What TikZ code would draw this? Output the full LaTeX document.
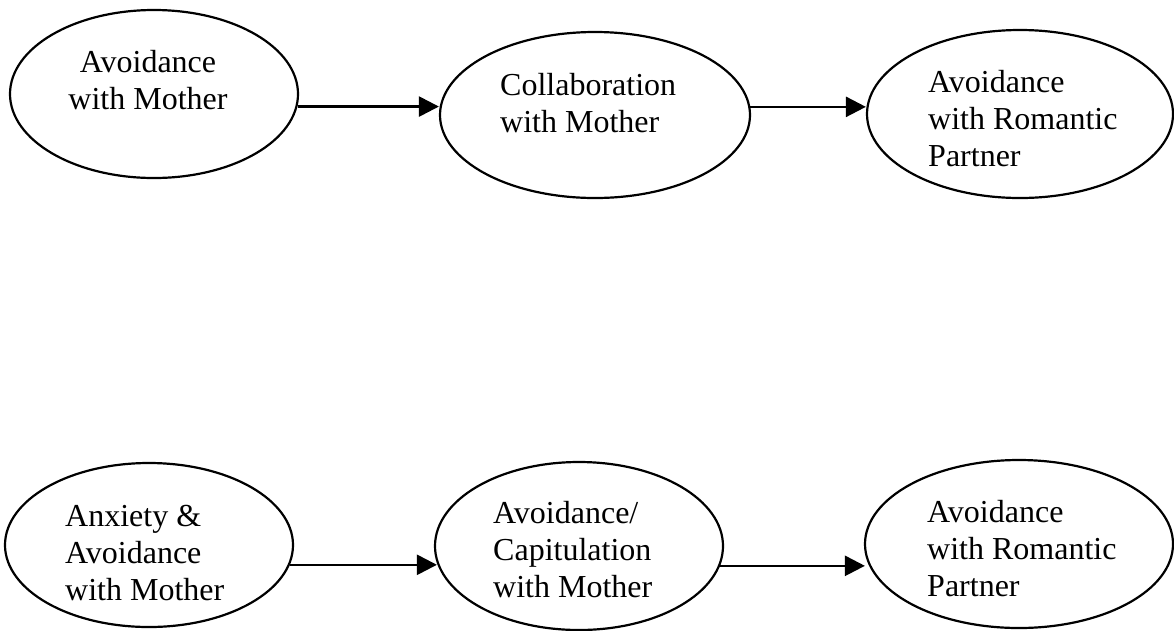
\documentclass[tikz,border=0pt]{standalone}
\usepackage{fontspec}
\setmainfont{Liberation Serif}
\usetikzlibrary{shapes.geometric,arrows.meta}

\tikzset{
  state/.style={draw=black, line width=2.2pt, ellipse, inner sep=0pt},
  caption/.style={inner sep=0pt, font=\fontsize{32}{37}\selectfont},
  flow/.style={draw=black, line width=2.6pt, -{Triangle[length=20pt,width=20pt]}}
}

\begin{document}
\begin{tikzpicture}[x=1pt, y=-1pt]
  \useasboundingbox (0,0) rectangle (1174,630);

  % upper chain
  \node[state, minimum width=288pt, minimum height=168pt] (e1) at (154,94) {};
  \node[state, minimum width=310pt, minimum height=166pt] (e2) at (595,115) {};
  \node[state, minimum width=306pt, minimum height=168pt] (e3) at (1020,114) {};

  \node[caption, anchor=north, align=center] (t1) at (148,50) {Avoidance\\with Mother};
  \node[caption, anchor=north west, align=left] (t2) at (500,73) {Collaboration\\with Mother};
  \node[caption, anchor=north west, align=left] (t3) at (928,70) {Avoidance\\with Romantic\\Partner};

  \draw[flow] (e1.-5) -- (e1.-5 -| e2.west);
  \draw[flow] (e2.3) -- (e2.3 -| e3.west);

  % lower chain
  \node[state, minimum width=288pt, minimum height=164pt] (e4) at (149,545) {};
  \node[state, minimum width=288pt, minimum height=168pt] (e5) at (579,546) {};
  \node[state, minimum width=308pt, minimum height=168pt] (e6) at (1019,544) {};

  \node[caption, anchor=north west, align=left] (t4) at (65,505) {Anxiety \&\\Avoidance\\with Mother};
  \node[caption, anchor=north west, align=left] (t5) at (493,501) {Avoidance/\\Capitulation\\with Mother};
  \node[caption, anchor=north west, align=left] (t6) at (927,500) {Avoidance\\with Romantic\\Partner};

  \draw[flow] (e4.-8.6) -- ([xshift=3pt]e4.-8.6 -| e5.west);
  \draw[flow] (e5.-8.1) -- ([xshift=1pt]e5.-8.1 -| e6.west);
\end{tikzpicture}
\end{document}
